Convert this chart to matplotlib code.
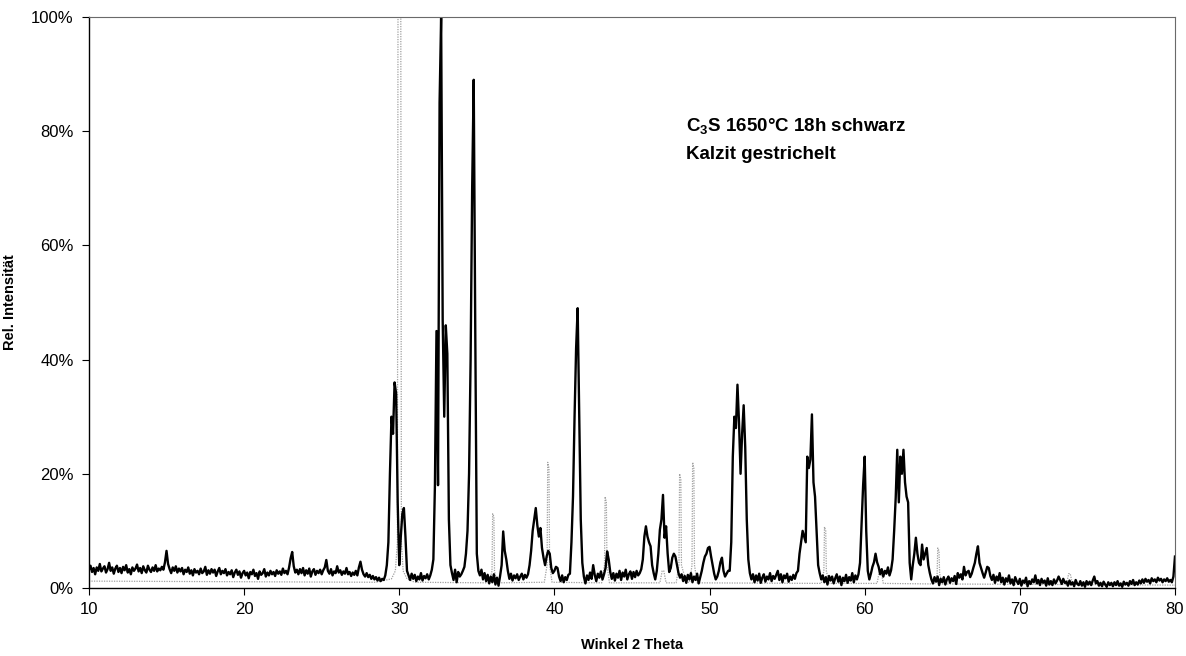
import numpy as np
import matplotlib
matplotlib.use("Agg")
import matplotlib.pyplot as plt
from matplotlib.ticker import PercentFormatter, MultipleLocator

plt.rcParams["font.family"] = ["Liberation Sans", "DejaVu Sans"]
plt.rcParams["mathtext.fontset"] = "custom"
plt.rcParams["mathtext.bf"] = "Liberation Sans:bold"
plt.rcParams["mathtext.rm"] = "Liberation Sans"

# C3S pattern, rel. intensity in %, one row per degree (x.0 ... x.9), step 0.1
theta_start = 10.0
theta_step = 0.1
c3s_int = [
    3.2, 3.9, 2.8, 3.5, 2.4, 3.6, 3.0, 4.2, 2.9, 3.4,   # 10
    3.8, 2.7, 3.3, 4.4, 3.0, 3.6, 2.5, 3.4, 3.9, 2.8,   # 11
    3.5, 2.6, 3.7, 3.1, 4.0, 2.7, 3.3, 2.4, 3.6, 3.0,   # 12
    3.4, 4.1, 2.9, 3.5, 2.6, 3.8, 3.1, 2.7, 3.9, 3.2,   # 13
    2.8, 3.6, 3.0, 4.0, 2.9, 3.4, 3.1, 3.7, 3.2, 4.5,   # 14
    6.5, 4.2, 3.3, 2.6, 3.6, 3.0, 3.8, 2.7, 3.4, 2.9,   # 15
    3.5, 2.4, 3.2, 2.8, 3.6, 2.5, 3.1, 2.2, 3.3, 2.7,   # 16
    3.0, 2.4, 3.4, 2.6, 2.9, 3.7, 2.3, 3.1, 2.5, 3.3,   # 17
    2.7, 3.2, 2.1, 2.9, 3.5, 2.4, 3.0, 2.6, 3.3, 2.2,   # 18
    2.8, 2.4, 3.1, 1.9, 2.7, 3.2, 2.3, 2.9, 1.8, 2.6,   # 19
    3.0, 2.2, 2.7, 1.7, 2.8, 2.4, 3.2, 2.1, 2.6, 1.6,   # 20
    2.9, 2.3, 2.6, 3.3, 2.0, 2.7, 2.2, 3.0, 2.4, 2.8,   # 21
    2.1, 3.1, 2.5, 2.9, 2.3, 3.4, 2.6, 3.0, 2.4, 3.6,   # 22
    5.2, 6.3, 3.8, 2.7, 3.2, 2.4, 3.3, 2.6, 3.5, 2.2,   # 23
    3.1, 2.5, 3.4, 2.0, 2.9, 3.3, 2.3, 3.0, 2.6, 3.2,   # 24
    2.4, 3.1, 3.6, 4.9, 3.0, 2.5, 3.3, 2.2, 2.9, 2.6,   # 25
    3.8, 2.7, 3.1, 2.3, 2.9, 2.5, 3.5, 2.4, 2.8, 2.1,   # 26
    2.7, 2.3, 3.0, 2.2, 3.6, 4.6, 3.2, 2.4, 2.0, 2.6,   # 27
    1.9, 2.3, 1.6, 2.1, 1.5, 1.9, 1.3, 1.8, 1.2, 1.6,   # 28
    1.4, 2.2, 4.0, 8.0, 20.0, 30.0, 27.0, 36.0, 34.0, 15.0,   # 29
    4.0, 9.0, 13.0, 14.0, 9.0, 3.0, 2.2, 1.4, 2.5, 1.6,   # 30
    2.3, 1.2, 2.0, 1.5, 2.6, 1.3, 2.1, 1.7, 2.4, 1.5,   # 31
    2.2, 3.2, 5.0, 18.0, 45.0, 18.0, 85.0, 100.0, 47.0, 30.0,   # 32
    46.0, 41.0, 12.0, 4.0, 2.6, 1.4, 3.2, 1.0, 2.8, 2.0,   # 33
    2.4, 3.0, 3.7, 6.0, 10.0, 20.0, 40.0, 70.0, 89.0, 45.0,   # 34
    6.0, 3.0, 2.2, 3.2, 1.5, 2.6, 1.2, 2.3, 0.8, 2.0,   # 35
    1.0, 2.4, 0.6, 1.8, 0.4, 2.1, 4.0, 9.9, 6.5, 5.0,   # 36
    3.0, 1.6, 2.5, 1.3, 2.2, 1.7, 2.4, 1.4, 2.0, 2.5,   # 37
    1.5, 2.3, 1.8, 2.4, 4.0, 6.5, 10.0, 12.0, 14.0, 11.0,   # 38
    9.0, 10.5, 7.0, 5.3, 4.0, 5.5, 6.5, 6.0, 3.5, 2.6,   # 39
    3.0, 3.7, 3.5, 2.0, 1.2, 2.2, 1.0, 1.9, 1.4, 2.3,   # 40
    2.5, 8.0, 16.0, 30.0, 42.0, 49.0, 30.0, 12.0, 4.4, 2.0,   # 41
    0.8, 2.2, 1.4, 2.7, 1.6, 4.0, 2.3, 1.2, 2.5, 1.8,   # 42
    2.9, 1.5, 2.4, 3.5, 6.4, 5.0, 2.8, 1.6, 2.6, 1.3,   # 43
    2.5, 1.8, 3.0, 1.4, 2.7, 2.0, 3.2, 1.5, 2.4, 2.9,   # 44
    1.6, 2.8, 1.9, 3.0, 2.2, 2.6, 3.3, 5.0, 9.0, 10.8,   # 45
    9.0, 8.0, 7.3, 4.0, 2.6, 1.5, 3.0, 6.0, 10.2, 12.0,   # 46
    16.3, 8.8, 10.8, 6.0, 2.8, 3.5, 5.3, 6.0, 5.5, 4.0,   # 47
    2.6, 1.8, 2.4, 1.2, 2.1, 0.9, 2.3, 1.5, 2.6, 1.0,   # 48
    2.0, 1.4, 2.5, 0.8, 1.9, 3.0, 4.4, 5.5, 6.0, 7.0,   # 49
    7.2, 5.5, 4.0, 2.5, 1.5, 2.0, 3.0, 4.5, 5.3, 3.0,   # 50
    2.0, 2.5, 3.0, 3.0, 8.0, 23.0, 30.0, 28.0, 35.6, 29.0,   # 51
    20.0, 27.0, 32.0, 24.7, 12.0, 5.0, 2.6, 1.5, 2.4, 1.0,   # 52
    2.2, 1.3, 2.5, 0.9, 1.8, 2.4, 1.1, 2.0, 1.5, 2.6,   # 53
    1.2, 2.1, 1.6, 2.3, 3.0, 1.4, 2.4, 1.0, 2.2, 1.7,   # 54
    2.5, 1.1, 2.0, 1.4, 2.3, 1.6, 2.6, 3.0, 6.0, 8.0,   # 55
    10.0, 9.0, 8.0, 23.0, 21.0, 22.5, 30.4, 18.5, 16.0, 10.0,   # 56
    4.0, 2.6, 1.5, 2.2, 1.0, 1.9, 0.6, 2.1, 1.3, 2.0,   # 57
    0.8, 1.7, 2.4, 1.1, 2.0, 0.5, 1.8, 1.2, 2.3, 0.9,   # 58
    1.9, 1.3, 2.6, 1.0, 2.2, 1.5, 2.4, 4.4, 11.4, 18.0,   # 59
    23.0, 10.0, 3.0, 1.5, 2.5, 3.7, 4.5, 6.0, 4.5, 3.7,   # 60
    2.4, 3.3, 2.0, 3.0, 2.5, 3.6, 2.2, 3.1, 5.0, 10.0,   # 61
    15.8, 24.2, 15.0, 23.0, 20.0, 24.2, 18.5, 16.0, 15.0, 4.4,   # 62
    1.5, 4.0, 6.0, 8.8, 6.0, 4.4, 4.0, 7.6, 5.0, 6.0,   # 63
    7.0, 4.0, 2.6, 1.5, 0.8, 1.9, 1.1, 2.0, 0.5, 1.6,   # 64
    1.0, 1.9, 0.6, 1.5, 2.0, 0.9, 1.7, 1.2, 2.1, 0.7,   # 65
    2.6, 1.8, 2.4, 1.5, 3.7, 2.2, 2.8, 3.0, 1.9, 2.5,   # 66
    3.5, 4.4, 6.0, 7.3, 4.4, 3.5, 2.6, 1.8, 2.7, 3.7,   # 67
    3.5, 2.1, 1.4, 2.3, 0.9, 2.0, 1.3, 2.6, 1.0, 1.8,   # 68
    0.6, 1.7, 1.1, 2.2, 0.8, 1.5, 0.5, 1.9, 1.2, 0.7,   # 69
    1.6, 0.4, 1.3, 0.9, 1.8, 0.3, 1.2, 0.7, 1.5, 1.0,   # 70
    2.2, 0.8, 1.4, 0.5, 1.6, 0.9, 1.3, 0.4, 1.7, 0.6,   # 71
    1.2, 0.5, 1.5, 0.8, 1.3, 2.0, 1.4, 0.7, 1.6, 0.9,   # 72
    1.1, 0.4, 1.3, 0.6, 1.0, 0.3, 1.4, 0.7, 0.5, 1.2,   # 73
    0.4, 1.0, 0.2, 1.2, 0.6, 1.1, 0.5, 1.3, 2.0, 0.8,   # 74
    1.2, 0.4, 0.9, 0.3, 1.1, 0.6, 0.2, 1.0, 0.5, 0.9,   # 75
    0.3, 1.0, 0.5, 1.2, 0.4, 0.8, 0.2, 1.1, 0.6, 0.9,   # 76
    0.4, 1.2, 0.7, 1.4, 0.5, 1.0, 0.6, 1.3, 0.8, 1.5,   # 77
    0.9, 1.6, 1.1, 1.4, 0.8, 1.7, 1.2, 1.5, 1.0, 1.8,   # 78
    1.3, 1.6, 1.0, 1.5, 1.2, 1.7, 1.1, 1.4, 1.0, 2.0,   # 79
    5.5,                                                  # 80
]

# Kalzit (calcite) reference pattern, dashed grey
kalzit_theta = [10.0, 28.5, 29.5, 29.75, 29.88, 29.92, 30.1, 30.14, 30.25, 30.5, 31.0,
                35.8, 35.98, 36.02, 36.1, 36.14, 36.3,
                39.35, 39.53, 39.57, 39.65, 39.69, 39.85,
                43.05, 43.23, 43.27, 43.35, 43.39, 43.55,
                46.8, 46.95, 47.05, 47.2,
                47.85, 48.03, 48.07, 48.15, 48.19, 48.5,
                48.72, 48.87, 48.91, 48.99, 49.03, 49.2,
                57.2, 57.37, 57.41, 57.49, 57.53, 57.7,
                60.8, 60.95, 61.05, 61.2,
                64.5, 64.67, 64.71, 64.79, 64.83, 65.0,
                73.0, 73.15, 73.25, 73.4, 80.0]
kalzit_int = [1.2, 1.0, 1.6, 3.0, 8.0, 100.0, 100.0, 8.0, 3.0, 1.6, 1.0,
              0.9, 3.0, 13.0, 12.5, 3.0, 0.9,
              1.0, 4.0, 22.0, 21.0, 4.0, 1.0,
              0.9, 4.0, 16.0, 15.0, 4.0, 0.9,
              0.9, 3.0, 3.0, 0.9,
              0.9, 4.0, 20.0, 19.0, 4.0, 1.0,
              1.0, 4.0, 22.0, 21.0, 4.0, 0.9,
              0.8, 3.0, 10.7, 10.0, 3.0, 0.8,
              0.8, 3.0, 3.0, 0.8,
              0.7, 2.5, 7.0, 6.5, 2.5, 0.7,
              0.6, 2.5, 2.5, 0.6, 0.5]

c3s_theta = theta_start + theta_step * np.arange(len(c3s_int))

fig = plt.figure(figsize=(11.86, 6.56), dpi=100)
ax = fig.add_axes([0.0750, 0.1037, 0.9157, 0.8704])

ax.plot(kalzit_theta, kalzit_int, color="#a0a0a0", lw=0.9, ls=(0, (1, 1)))
ax.plot(c3s_theta, c3s_int, color="black", lw=1.7)

ax.set_xlim(10, 80)
ax.set_ylim(0, 100)
ax.xaxis.set_major_locator(MultipleLocator(10))
ax.yaxis.set_major_locator(MultipleLocator(20))
ax.yaxis.set_major_formatter(PercentFormatter(xmax=100, decimals=0))

ax.tick_params(axis="both", direction="out", labelsize=12, length=5, width=0.8, pad=6)
ax.tick_params(axis="x", pad=5)
for s in ["left", "bottom"]:
    ax.spines[s].set_color("black")
    ax.spines[s].set_linewidth(1.0)
for s in ["top", "right"]:
    ax.spines[s].set_color("#6a6a6a")
    ax.spines[s].set_linewidth(0.8)

ax.set_xlabel("Winkel 2 Theta", fontsize=10.5, fontweight="bold")
ax.xaxis.set_label_coords(0.5, -0.087)
ax.set_ylabel("Rel. Intensität", fontsize=10.5, fontweight="bold")
ax.yaxis.set_label_coords(-0.066, 0.5)

ax.text(48.5, 80.8, r"C$_\mathbf{3}$S 1650°C 18h schwarz", fontsize=13.5,
        fontweight="bold", va="center", ha="left")
ax.text(48.5, 75.9, "Kalzit gestrichelt", fontsize=13.5,
        fontweight="bold", va="center", ha="left")

fig.savefig("out.png", dpi=100)
